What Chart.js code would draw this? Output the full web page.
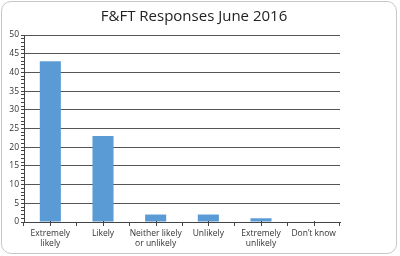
<!DOCTYPE html>
<html><head><meta charset="utf-8">
<script src="https://cdn.jsdelivr.net/npm/chart.js@4"></script>
<style>
html,body{margin:0;padding:0;background:#fff;}
#wrap{position:absolute;left:1px;top:1px;width:394px;height:251px;border:1.5px solid #c8c8c8;border-radius:10px;}
canvas{position:absolute;left:0;top:0;}
</style></head>
<body>
<div id="wrap"></div>
<canvas id="c" width="400" height="256"></canvas>
<script>
const titleText = "F&FT Responses June 2016";
const categories = [["Extremely","likely"],"Likely",["Neither likely","or unlikely"],"Unlikely",["Extremely","unlikely"],"Don\u2019t know"];
const responses = [43, 23, 2, 2, 1, 0];
const yMin = 0, yMax = 50, yMajorStep = 5, yMinorStep = 1;

const extras = {
  id: 'extras',
  afterDraw(chart) {
    const x = chart.scales.x, ctx = chart.ctx;
    ctx.save();
    ctx.strokeStyle = '#444'; ctx.lineWidth = 1;
    for (let i = 0; i < categories.length; i++) {
      const px = Math.round(x.getPixelForValue(i)) + 0.5;
      ctx.beginPath(); ctx.moveTo(px, x.top - 1); ctx.lineTo(px, x.top + 4); ctx.stroke();
    }
    ctx.fillStyle = '#222';
    ctx.font = '15px "Open Sans"';
    ctx.textAlign = 'center'; ctx.textBaseline = 'middle';
    ctx.fillText(titleText, 194, 17);
    ctx.restore();
  }
};

new Chart(document.getElementById('c'), {
  type: 'bar',
  data: { labels: categories, datasets: [{ data: responses, backgroundColor: '#5b9bd5', barPercentage: 0.8, categoryPercentage: 0.5 }] },
  options: {
    responsive: false, animation: false,
    layout: { padding: { left: 4, right: 60, top: 35, bottom: 8 } },
    plugins: { legend: { display: false }, tooltip: { enabled: false }, title: { display: false } },
    scales: {
      x: {
        grid: { offset: true, drawOnChartArea: false, color: '#444', tickLength: 4 },
        border: { color: '#444', width: 1 },
        ticks: { color: '#333', font: { family: 'Open Sans', size: 8.5 }, maxRotation: 0, autoSkip: false, padding: 2 },
        afterFit(s) { s.height = 26; }
      },
      y: {
        min: yMin, max: yMax,
        afterBuildTicks(s) { const t = []; for (let v = yMin; v <= yMax; v += yMinorStep) t.push({ value: v }); s.ticks = t; },
        grid: { color: c => (c.tick && c.tick.value % yMajorStep === 0 && c.tick.value !== 0) ? '#555' : 'rgba(0,0,0,0)', tickColor: '#444', tickLength: 3 },
        border: { color: '#444', width: 1 },
        ticks: { autoSkip: false, color: '#333', font: { family: 'Open Sans', size: 8.5 }, padding: 2, callback: v => v % yMajorStep === 0 ? String(v) : '' },
        afterFit(s) { s.width = 20; }
      }
    }
  },
  plugins: [extras]
});
</script>
</body></html>
